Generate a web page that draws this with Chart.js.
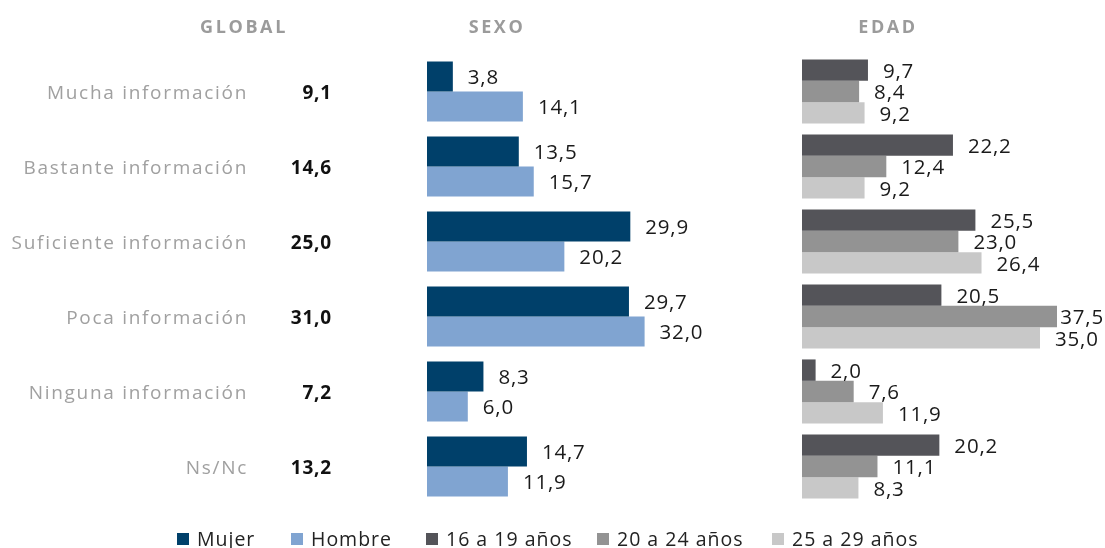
<!DOCTYPE html>
<html>
<head>
<meta charset="utf-8">
<script src="https://cdn.jsdelivr.net/npm/chart.js@4.4.1/dist/chart.umd.min.js"></script>
<style>
  html, body { margin: 0; padding: 0; background: #ffffff; }
  #wrap { position: relative; width: 1105px; height: 548px; overflow: hidden; font-family: "Open Sans", sans-serif; }
  canvas { position: absolute; top: 0; }
  #legend { position: absolute; top: 525px; left: 0; width: 1105px; height: 26px; }
  .li { position: absolute; top: 0; display: flex; align-items: center; font-size: 19.5px; color: #222; letter-spacing: 1px; white-space: nowrap; }
  .sw { width: 12px; height: 12px; margin-right: 8px; }
</style>
</head>
<body>
<div id="wrap">
  <canvas id="sexo" width="790" height="548" style="left:0px"></canvas>
  <canvas id="edad" width="315" height="548" style="left:790px"></canvas>
  <div id="legend"></div>
</div>
<script>
// ---- data ----
const categories = ["Mucha información", "Bastante información", "Suficiente información", "Poca información", "Ninguna información", "Ns/Nc"];
const globalValues = [9.1, 14.6, 25.0, 31.0, 7.2, 13.2];
const mujer  = [3.8, 13.5, 29.9, 29.7, 8.3, 14.7];
const hombre = [14.1, 15.7, 20.2, 32.0, 6.0, 11.9];
const edad16a19 = [9.7, 22.2, 25.5, 20.5, 2.0, 20.2];
const edad20a24 = [8.4, 12.4, 23.0, 37.5, 7.6, 11.1];
const edad25a29 = [9.2, 9.2, 26.4, 35.0, 11.9, 8.3];
const panelTitles = ["GLOBAL", "SEXO", "EDAD"];
const seriesNames = ["Mujer", "Hombre", "16 a 19 años", "20 a 24 años", "25 a 29 años"];
const seriesColors = ["#00406A", "#80A4D1", "#545459", "#939393", "#C8C8C8"];

const fmt = v => v.toFixed(1).replace('.', ',');

const valueLabels = {
  id: 'valueLabels',
  afterDatasetsDraw(chart) {
    const ctx = chart.ctx;
    ctx.save();
    ctx.font = '20.5px "Open Sans"';
    ctx.letterSpacing = '0.8px';
    ctx.fillStyle = '#1a1a1a';
    ctx.textAlign = 'left';
    ctx.textBaseline = 'middle';
    chart.data.datasets.forEach((ds, di) => {
      const meta = chart.getDatasetMeta(di);
      meta.data.forEach((el, i) => {
        const t = fmt(ds.data[i]);
        const w = ctx.measureText(t).width;
        const x = Math.min(el.x + 15, chart.width - w - 1);
        ctx.fillText(t, x, el.y + 2);
      });
    });
    ctx.restore();
  }
};

const leftText = {
  id: 'leftText',
  afterDraw(chart) {
    const ctx = chart.ctx;
    const ys = chart.scales.y;
    ctx.save();
    ctx.textBaseline = 'middle';
    // titles
    ctx.font = 'bold 18px "Open Sans"';
    ctx.fillStyle = '#9b9b9b';
    ctx.textAlign = 'center';
    ctx.letterSpacing = '2.6px';
    ctx.fillText(panelTitles[0], 244, 28);
    ctx.fillText(panelTitles[1], 497, 28);
    // categories
    ctx.font = '19px "Open Sans"';
    ctx.letterSpacing = '1.7px';
    ctx.textAlign = 'right';
    ctx.fillStyle = '#a0a0a0';
    categories.forEach((c, i) => {
      ctx.fillText(c, 248, ys.getPixelForValue(i) + 2);
    });
    ctx.font = 'bold 19px "Open Sans"';
    ctx.letterSpacing = '0.8px';
    ctx.fillStyle = '#111111';
    globalValues.forEach((v, i) => {
      ctx.fillText(fmt(v), 332, ys.getPixelForValue(i) + 2);
    });
    ctx.restore();
  }
};

const rightTitle = {
  id: 'rightTitle',
  afterDraw(chart) {
    const ctx = chart.ctx;
    ctx.save();
    ctx.font = 'bold 18px "Open Sans"';
    ctx.fillStyle = '#9b9b9b';
    ctx.textAlign = 'center';
    ctx.textBaseline = 'middle';
    ctx.letterSpacing = '2.6px';
    ctx.fillText(panelTitles[2], 98, 28);
    ctx.restore();
  }
};

const PX_PER_UNIT = 6.8;

function baseOptions(padLeft, padRight, xmax) {
  return {
    indexAxis: 'y',
    responsive: false,
    animation: false,
    devicePixelRatio: 1,
    layout: { padding: { left: padLeft, right: padRight, top: 54, bottom: 44 } },
    plugins: { legend: { display: false }, tooltip: { enabled: false } },
    scales: {
      x: { display: false, min: 0, max: xmax },
      y: { display: false, offset: true }
    }
  };
}

new Chart(document.getElementById('sexo'), {
  type: 'bar',
  data: {
    labels: categories,
    datasets: [
      { label: seriesNames[0], data: mujer, backgroundColor: seriesColors[0], categoryPercentage: 0.8, barPercentage: 1.0 },
      { label: seriesNames[1], data: hombre, backgroundColor: seriesColors[1], categoryPercentage: 0.8, barPercentage: 1.0 }
    ]
  },
  options: baseOptions(427, 23, 340 / PX_PER_UNIT),
  plugins: [valueLabels, leftText]
});

new Chart(document.getElementById('edad'), {
  type: 'bar',
  data: {
    labels: categories,
    datasets: [
      { label: seriesNames[2], data: edad16a19, backgroundColor: seriesColors[2], categoryPercentage: 0.855, barPercentage: 1.0 },
      { label: seriesNames[3], data: edad20a24, backgroundColor: seriesColors[3], categoryPercentage: 0.855, barPercentage: 1.0 },
      { label: seriesNames[4], data: edad25a29, backgroundColor: seriesColors[4], categoryPercentage: 0.855, barPercentage: 1.0 }
    ]
  },
  options: baseOptions(12, 3, 300 / PX_PER_UNIT),
  plugins: [valueLabels, rightTitle]
});

// legend
const legendX = [177, 291, 426, 597, 772];
const lg = document.getElementById('legend');
seriesNames.forEach((n, i) => {
  const d = document.createElement('div');
  d.className = 'li';
  d.style.left = legendX[i] + 'px';
  d.innerHTML = '<div class="sw" style="background:' + seriesColors[i] + '"></div><span>' + n + '</span>';
  lg.appendChild(d);
});
</script>
</body>
</html>
